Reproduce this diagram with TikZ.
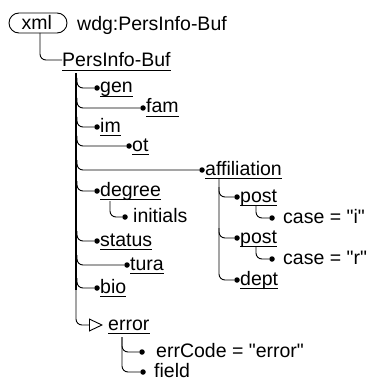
\documentclass[tikz,border=0pt]{standalone}
\usepackage{fontspec}
\setmainfont{Liberation Sans}
\usetikzlibrary{arrows.meta}
\begin{document}
\begin{tikzpicture}[x=1pt,y=-1pt,
  font=\fontsize{19.5}{22}\selectfont,
  conn/.style={line width=0.9pt,rounded corners=6pt},
  trunk/.style={line width=1.9pt},
  dot/.style={circle,fill=black,inner sep=0pt,minimum size=5.5pt},
  lbl/.style={inner sep=0pt,anchor=base west},
  ul/.style={line width=0.9pt}]
\useasboundingbox (0,0) rectangle (368,382);

% root element
\node[draw,line width=0.9pt,rounded corners=10pt,minimum width=58pt,minimum height=20pt,inner sep=0pt] (xml) at (38,23) {};
\node[lbl] (xmltxt) at (21.5,30) {xml};
\node[lbl] (title) at (77,30.5) {wdg:PersInfo-Buf};
\node[lbl] (root) at (62,67) {PersInfo-Buf};
\draw[ul] ([yshift=-3.5pt]root.base west) -- ([yshift=-3.5pt]root.base east);
\draw[conn] (40,33) |- (root.west |- 0,60);

% element: bullet, label, underline
\newcommand{\elem}[4]{% name, x, y, text
  \node[dot] (#1d) at (#2,#3) {};
  \node[lbl] (#1) at (#2+3,#3+5) {#4};
  \draw[ul] ([yshift=-3.5pt]#1.base west) -- ([yshift=-3.5pt]#1.base east);}
% attribute: bullet and label
\newcommand{\attr}[5]{% name, x, y, text offset, text
  \node[dot] (#1d) at (#2,#3) {};
  \node[lbl] (#1) at (#2+#4,#3+5) {#5};}

% trunk
\draw[trunk] (76,73) -- (76,290);

\elem{gen}{97}{88}{gen}
\elem{fam}{143}{108}{fam}
\elem{im}{97}{127}{im}
\elem{ot}{129}{146}{ot}
\elem{aff}{202}{170}{affiliation}
\elem{deg}{97}{191}{degree}
\attr{ini}{125}{217}{8}{initials}
\elem{sta}{97}{241}{status}
\elem{tura}{127}{265}{tura}
\elem{bio}{97}{288}{bio}

\foreach \n in {gen,fam,im,ot,aff,deg,sta,tura,bio}
  \draw[conn] (\n d -| 77,0) ++(0,-10) |- (\n d);

% initials under degree
\draw[conn] (110,201) |- (inid);

% error
\node[lbl] (err) at (108,330) {error};
\draw[ul] ([yshift=-3.5pt]err.base west) -- ([yshift=-3.5pt]err.base east);
\coordinate (errtip) at (103,325);
\draw[conn,-{Triangle[open,length=14pt,width=13pt,line width=0.9pt]}] (76,285) |- (errtip);
\attr{ecode}{142}{352}{14}{errCode = \textquotedbl error\textquotedbl}
\attr{fld}{143}{372}{11}{field}
\draw[conn] (122,337) |- (ecoded);
\draw[conn] (122,337) |- (fldd);

% affiliation subtree
\elem{postA}{237}{197}{post}
\attr{caseA}{272}{218}{11}{case = \textquotedbl i\textquotedbl}
\elem{postB}{237}{238}{post}
\attr{caseB}{272}{259}{11}{case = \textquotedbl r\textquotedbl}
\elem{dept}{237}{280}{dept}
\draw[conn] (219,178) |- (deptd);
\foreach \n in {postA,postB}
  \draw[conn] (\n d -| 219,0) ++(0,-10) |- (\n d);
\draw[conn] (256,206) |- (caseAd);
\draw[conn] (256,247) |- (caseBd);
\end{tikzpicture}
\end{document}
